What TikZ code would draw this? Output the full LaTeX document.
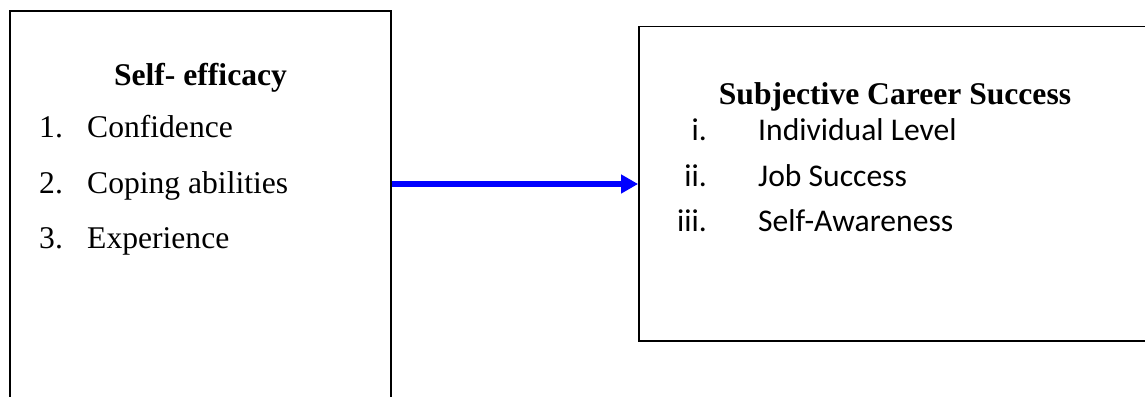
\documentclass[tikz,border=0pt]{standalone}
\usepackage{fontspec}
\setmainfont{Liberation Serif}
\newfontfamily\calfont{Carlito}
\usetikzlibrary{arrows.meta}
\tikzset{
  boxstyle/.style={draw=black, line width=1.8pt, rectangle, inner sep=0pt},
  serif/.style={inner sep=0pt, font=\fontsize{31.6}{38}\selectfont},
  bserif/.style={inner sep=0pt, font=\fontsize{31.6}{38}\selectfont\bfseries},
  cal/.style={inner sep=0pt, font=\fontsize{31.6}{38}\selectfont\calfont},
  link/.style={draw=blue, line width=6pt, -{Triangle[length=17pt,width=18pt]}}
}
\begin{document}
\begin{tikzpicture}[x=1pt,y=-1pt]
\useasboundingbox (0,0) rectangle (1145,396);
\clip (0,0) rectangle (1145,396);
\node[boxstyle, minimum width=381pt, minimum height=409pt] (left) at (200.5,215.5) {};
\node[boxstyle, minimum width=521pt, minimum height=314.5pt] (right) at (899.5,183.75) {};
\coordinate (ay) at (0,184);
\draw[link] (left.east |- ay) -- (right.west |- ay);
% left box text
\node[bserif, anchor=base] (lt) at (200.5,85) {Self- efficacy};
\node[serif, anchor=base west] (l1n) at (39,137) {1.};
\node[serif, anchor=base west] (l1) at (87,137) {Confidence};
\node[serif, anchor=base west] (l2n) at (39,193) {2.};
\node[serif, anchor=base west] (l2) at (87,193) {Coping abilities};
\node[serif, anchor=base west] (l3n) at (39,248) {3.};
\node[serif, anchor=base west] (l3) at (87,248) {Experience};
% right box text
\node[bserif, anchor=base] (rt) at (895,104) {Subjective Career Success};
\node[cal, anchor=base east] (r1n) at (707,140) {i.};
\node[cal, anchor=base west] (r1) at (758,140) {Individual Level};
\node[cal, anchor=base east] (r2n) at (707,186) {ii.};
\node[cal, anchor=base west] (r2) at (758,186) {Job Success};
\node[cal, anchor=base east] (r3n) at (707,231) {iii.};
\node[cal, anchor=base west] (r3) at (758,231) {Self-Awareness};
\end{tikzpicture}
\end{document}
